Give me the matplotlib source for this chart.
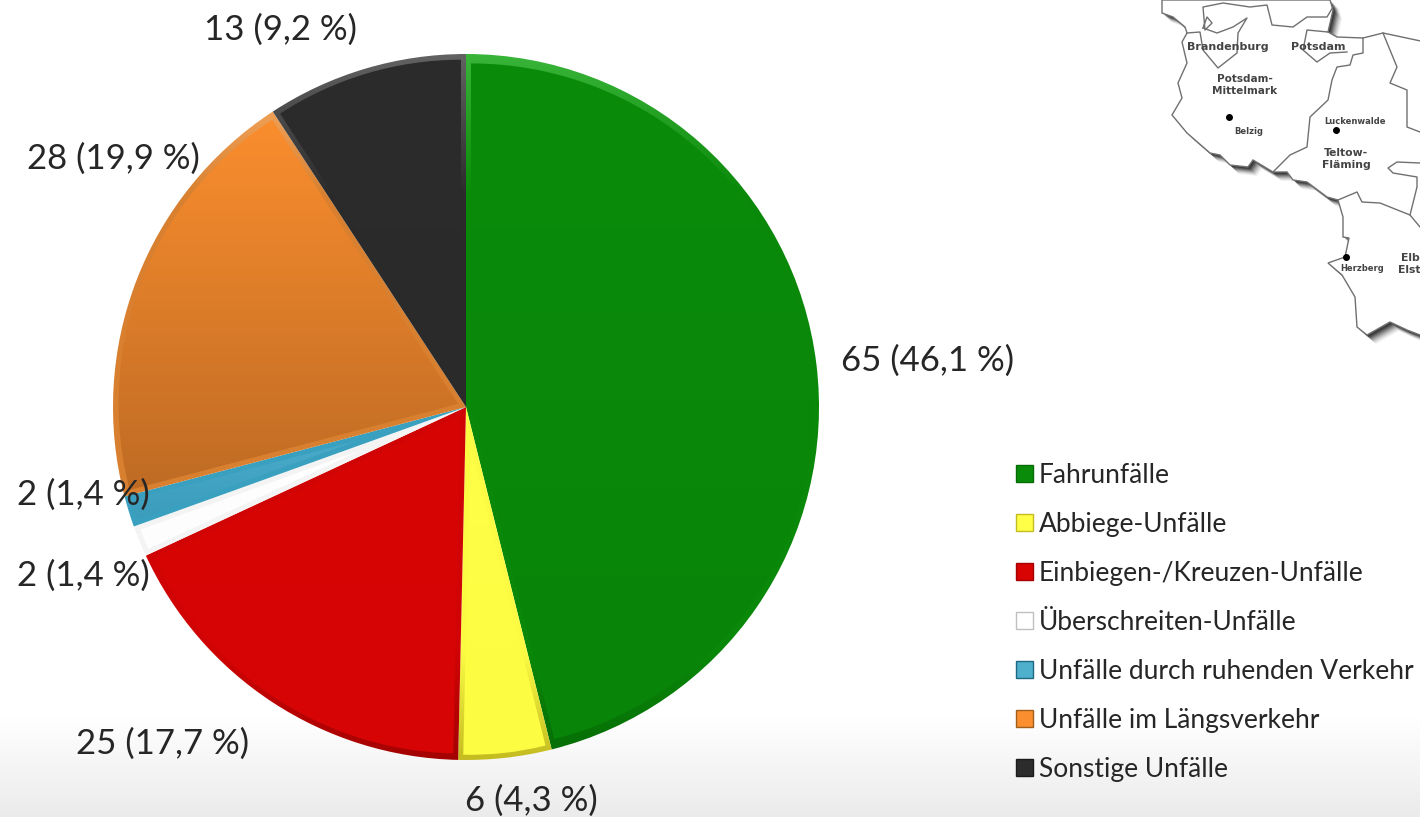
"""Unfalltypen pie chart with a bevel look, plus the map corner behind it."""
import matplotlib

matplotlib.use("Agg")
import matplotlib.pyplot as plt
import numpy as np
from matplotlib.colors import LinearSegmentedColormap
from matplotlib.patches import Patch, Polygon, Wedge

W, H = 1420, 817
CX, CY, R = 466, 407, 353
BEVEL = 5

categories = ["Fahrunfälle", "Abbiege-Unfälle", "Einbiegen-/Kreuzen-Unfälle", "Überschreiten-Unfälle",
              "Unfälle durch ruhenden Verkehr", "Unfälle im Längsverkehr", "Sonstige Unfälle"]
counts = [65, 6, 25, 2, 2, 28, 13]
shares = ["46,1", "4,3", "17,7", "1,4", "1,4", "19,9", "9,2"]

# face colours at top and bottom of a slice
top_colors = ["#0a8c0a", "#ffff48", "#d80404", "#ffffff", "#4fb0ce", "#fb8e2e", "#2c2c2c"]
bottom_colors = ["#088408", "#fcfc42", "#d60404", "#fdfdfd", "#3a9bbb", "#be6b24", "#2a2a2a"]
# bevel colours: lit from above, shaded below
rim_top = ["#38b438", "#ffffb0", "#ff5a5a", "#eeeeee", "#9ae4f6", "#ffb670", "#626262"]
rim_mid = ["#0a8809", "#fbfb44", "#d00404", "#f4f4f4", "#3aa0c0", "#d88030", "#2a2a2a"]
rim_bottom = ["#066c06", "#c4bc20", "#a40202", "#c0c0c0", "#1c6880", "#a0601c", "#1a1a1a"]

label_pos = [(928, 361), (531, 801), (163, 744), (83, 576), (83, 495), (113, 159), (281, 30)]

# map outline, x/y in pixels
map_outer_x = [1162, 1162, 1173, 1185, 1187, 1182, 1187, 1178, 1182, 1172, 1187, 1210, 1220, 1230, 1248, 1253,
               1273, 1287, 1293, 1307, 1327, 1338, 1343, 1343, 1349, 1345, 1328, 1342, 1355, 1357, 1367, 1390,
               1407, 1420, 1430, 1430, 1383, 1363, 1337, 1328, 1333, 1330]
map_outer_y = [0, 13, 17, 27, 33, 42, 63, 83, 98, 115, 133, 153, 155, 165, 167, 160, 172, 172, 180, 182, 197,
               200, 217, 237, 238, 257, 263, 275, 297, 327, 335, 322, 330, 335, 335, 43, 33, 38, 37, 32, 10, 0]
map_inner = [
    ([1187, 1200, 1203, 1218, 1237, 1238, 1247, 1233, 1217, 1203], [33, 32, 50, 68, 53, 33, 18, 27, 33, 28]),
    ([1203, 1207, 1212, 1205, 1203, 1223, 1250, 1267, 1272, 1293, 1307, 1327, 1333],
     [28, 17, 23, 30, 7, 3, 7, 5, 25, 27, 17, 17, 7]),
    ([1328, 1307, 1303, 1317, 1330, 1347], [32, 30, 50, 62, 53, 52]),
    ([1363, 1363, 1353, 1350, 1337, 1332, 1328, 1310, 1307, 1290, 1273],
     [38, 53, 55, 65, 67, 80, 100, 117, 147, 155, 172]),
    ([1338, 1357, 1362, 1380, 1410, 1420], [200, 192, 202, 203, 215, 227]),
    ([1410, 1417, 1417, 1393, 1388, 1397, 1420], [215, 187, 177, 173, 168, 162, 163]),
    ([1383, 1397, 1390, 1407, 1407, 1420], [33, 67, 83, 90, 127, 132]),
]
map_labels = [("Brandenburg", 1228, 47, 8.0), ("Potsdam", 1318, 47, 8.0), ("Potsdam-\nMittelmark", 1245, 85, 7.6),
              ("Belzig", 1249, 131, 6.0), ("Luckenwalde", 1355, 121, 6.0), ("Teltow-\nFläming", 1346, 159, 7.8),
              ("Herzberg", 1362, 268, 6.0), ("Elbe-\nElster", 1416, 264, 7.8)]
map_towns_x = [1229, 1336, 1346]
map_towns_y = [117, 130, 257]


def py(y):
    """Picture y (from the top) to axes y."""
    return H - y


def inset_wedge(wedge):
    """Same slice moved in and shrunk, so BEVEL px of the slice stay around it."""
    half = np.radians(wedge.theta2 - wedge.theta1) / 2
    mid = np.radians(wedge.theta1) + half
    shift = BEVEL / max(np.sin(min(half, np.pi / 2)), 0.01)
    cx, cy = wedge.center
    return Wedge((cx + shift * np.cos(mid), cy + shift * np.sin(mid)), wedge.r - BEVEL - shift,
                 wedge.theta1, wedge.theta2, fc="none", ec="none")


fig = plt.figure(figsize=(W / 100, H / 100), dpi=100, facecolor="white")
ax = fig.add_axes([0, 0, 1, 1])
plt.rcParams["font.family"] = ["Lato", "DejaVu Sans"]

# grey fade along the bottom of the slide
bg_cmap = LinearSegmentedColormap.from_list("bg", ["#ffffff", "#ebebeb"])
ax.imshow(np.linspace(0, 1, 100)[:, None], extent=(0, W, 0, 100), cmap=bg_cmap, aspect="auto", zorder=0)

wedges, _ = ax.pie(counts, startangle=90, counterclock=False, center=(CX, py(CY)), radius=R,
                   frame=False, wedgeprops={"linewidth": 0})
for i, wedge in enumerate(wedges):
    wedge.set_facecolor("none")
    rim_cmap = LinearSegmentedColormap.from_list(
        f"r{i}", [(0, rim_top[i]), (0.2, rim_mid[i]), (0.85, rim_mid[i]), (1, rim_bottom[i])])
    rim = ax.imshow(np.linspace(0, 1, 256)[:, None], extent=(CX - R, CX + R, py(CY) - R, py(CY) + R),
                    cmap=rim_cmap, aspect="auto", zorder=2)
    rim.set_clip_path(wedge)

    inner = ax.add_patch(inset_wedge(wedge))
    box = wedge.get_path().get_extents(wedge.get_patch_transform())
    cmap = LinearSegmentedColormap.from_list(f"w{i}", [top_colors[i], bottom_colors[i]])
    img = ax.imshow(np.linspace(0, 1, 128)[:, None], extent=(box.x0, box.x1, box.y0, box.y1), cmap=cmap,
                    aspect="auto", zorder=3)
    img.set_clip_path(inner)

for n, share, (x, y) in zip(counts, shares, label_pos):
    ax.text(x, py(y), f"{n} ({share} %)", ha="center", va="center", fontsize=25, color="#262626", zorder=6)

# map corner, shadow first
outline = np.column_stack([map_outer_x, [py(v) for v in map_outer_y]])
for off, alpha in [(9, 0.05), (8, 0.07), (7, 0.09), (6, 0.12), (5, 0.16), (4, 0.20), (3, 0.26), (2, 0.30)]:
    ax.add_patch(Polygon(outline + [off, -off], closed=True, fc="#000000", ec="none", alpha=alpha, zorder=1))
ax.add_patch(Polygon(outline, closed=True, fc="white", ec="#707070", lw=1.0, zorder=1.2))
for xs, ys in map_inner:
    ax.plot(xs, [py(v) for v in ys], color="#707070", lw=1.0, zorder=1.3)
ax.scatter(map_towns_x, [py(v) for v in map_towns_y], s=16, color="black", zorder=1.4)
for name, x, y, size in map_labels:
    ax.text(x, py(y), name, ha="center", va="center", fontsize=size, color="#444444", family="DejaVu Sans",
            weight="bold", linespacing=1.25, zorder=1.5, clip_on=True)

handles = [Patch(facecolor=top_colors[i], edgecolor=rim_bottom[i], linewidth=1) for i in range(len(categories))]
ax.legend(handles, categories, loc="upper left", bbox_to_anchor=(1005.5 / W, 1 - 452 / H), frameon=False,
          fontsize=19, labelcolor="#262626", handlelength=0.64, handleheight=0.64, handletextpad=0.23,
          labelspacing=0.91, borderpad=0.4, borderaxespad=0)

ax.set_xlim(0, W)
ax.set_ylim(0, H)
ax.axis("off")
fig.savefig("out.png", dpi=100)
